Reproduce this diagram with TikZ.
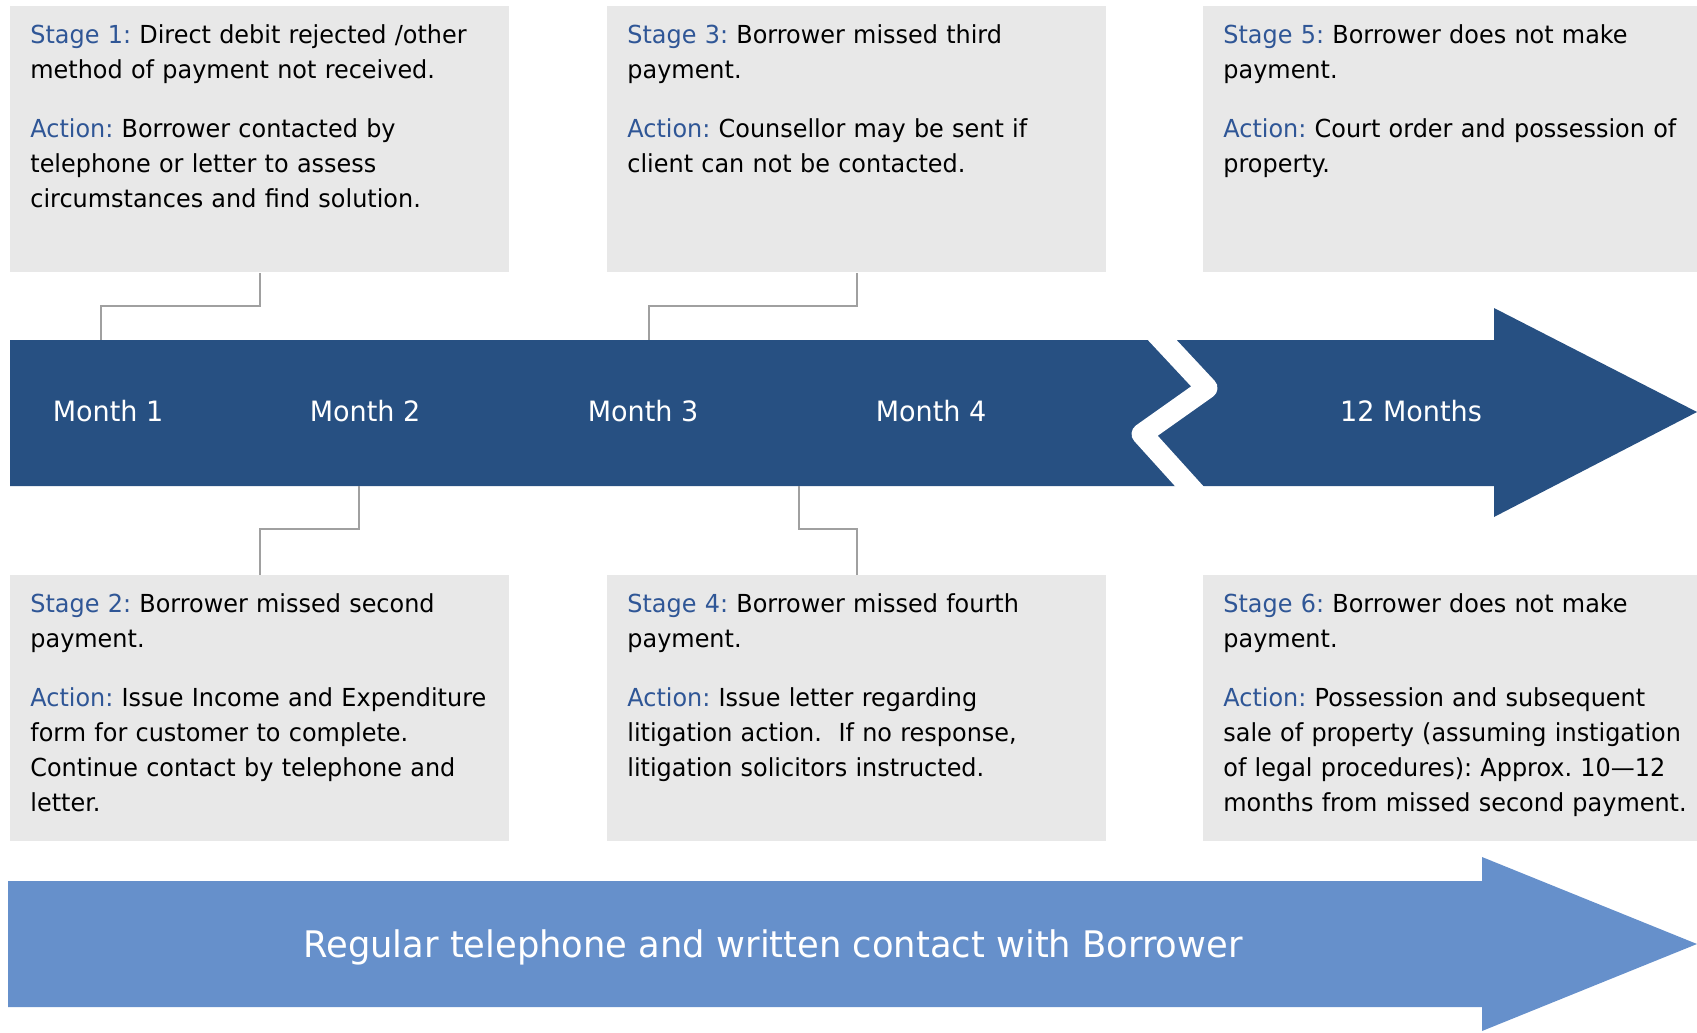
\documentclass[tikz,border=0pt]{standalone}
\usepackage{fontspec}
\setmainfont{DejaVu Sans}[FakeStretch=0.965]
\usetikzlibrary{positioning}
\definecolor{barblue}{RGB}{39,80,130}
\definecolor{flowblue}{RGB}{102,144,203}
\definecolor{boxgrey}{RGB}{232,232,232}
\definecolor{stageblue}{RGB}{47,86,150}
\definecolor{linkgrey}{RGB}{160,160,160}
\newcommand{\hl}[1]{\textcolor{stageblue}{#1}}
\frenchspacing

\begin{document}
\begin{tikzpicture}[x=0.5pt,y=-0.5pt,
	stagebox/.style={fill=boxgrey,inner sep=0,minimum width=249.5pt,minimum height=133pt,anchor=north west},
	stagetext/.style={inner sep=0,text width=300pt,align=left,font=\fontsize{12.4}{17.5}\selectfont},
	month/.style={text=white,font=\fontsize{14}{16}\selectfont},
	link/.style={draw=linkgrey,line width=1pt}]
	\useasboundingbox (0,0) rectangle (1697,1033);
	% time line with a break before the last step
	\fill[barblue] (10,340) -- (1494,340) -- (1494,308) -- (1697,412) -- (1494,517) -- (1494,486) -- (10,486) -- cycle;
	\draw[white,line width=10.5pt,line join=round] (1151,328) -- (1207,388) -- (1142,434) -- (1199,497);
	\node[month] (M1) at (108,411) {Month 1};
	\node[month] (M2) at (365,411) {Month 2};
	\node[month] (M3) at (643,411) {Month 3};
	\node[month] (M4) at (931,411) {Month 4};
	\node[month] (M12) at (1411,411) {12 Months};
	\coordinate (t1) at (101,340);
	\coordinate (t2) at (359,486);
	\coordinate (t3) at (649,340);
	\coordinate (t4) at (799,486);
	% stage boxes
	\node[stagebox] (S1) at (10,6) {};
	\node[stagebox] (S3) at (607,6) {};
	\node[stagebox,minimum width=247pt] (S5) at (1203,6) {};
	\node[stagebox] (S2) at (10,575) {};
	\node[stagebox] (S4) at (607,575) {};
	\node[stagebox,minimum width=247pt] (S6) at (1203,575) {};
	\node[stagetext,below right=9pt and 10pt of S1.north west] (T1) {\hl{Stage 1:} Direct debit rejected /other\\
		method of payment not received.\\[12pt]
		\hl{Action:} Borrower contacted by\\
		telephone or letter to assess\\
		circumstances and find solution.};
	\node[stagetext,below right=9pt and 10pt of S3.north west] (T3) {\hl{Stage 3:} Borrower missed third\\
		payment.\\[12pt]
		\hl{Action:} Counsellor may be sent if\\
		client can not be contacted.};
	\node[stagetext,below right=9pt and 10pt of S5.north west] (T5) {\hl{Stage 5:} Borrower does not make\\
		payment.\\[12pt]
		\hl{Action:} Court order and possession of\\
		property.};
	\node[stagetext,below right=9pt and 10pt of S2.north west] (T2) {\hl{Stage 2:} Borrower missed second\\
		payment.\\[12pt]
		\hl{Action:} Issue Income and Expenditure\\
		form for customer to complete.\\
		Continue contact by telephone and\\
		letter.};
	\node[stagetext,below right=9pt and 10pt of S4.north west] (T4) {\hl{Stage 4:} Borrower missed fourth\\
		payment.\\[12pt]
		\hl{Action:} Issue letter regarding\\
		litigation action.\ \ If no response,\\
		litigation solicitors instructed.};
	\node[stagetext,below right=9pt and 10pt of S6.north west] (T6) {\hl{Stage 6:} Borrower does not make\\
		payment.\\[12pt]
		\hl{Action:} Possession and subsequent\\
		sale of property (assuming instigation\\
		of legal procedures): Approx. 10—12\\
		months from missed second payment.};
	% elbow links from boxes to the time line
	\draw[link] (S1.south) -- ++(0,33) -| (t1);
	\draw[link] (S3.south) -- ++(0,33) -| (t3);
	\draw[link] (t2) -- ++(0,43) -| (S2.north);
	\draw[link] (t4) -- ++(0,43) -| (S4.north);
	% contact arrow along the bottom
	\fill[flowblue] (8,881) -- (1482,881) -- (1482,857) -- (1697,944) -- (1482,1031) -- (1482,1007) -- (8,1007) -- cycle;
	\node[text=white,font=\fontsize{18.3}{21}\selectfont] (contact) at (773,947) {Regular telephone and written contact with Borrower};
\end{tikzpicture}
\end{document}
